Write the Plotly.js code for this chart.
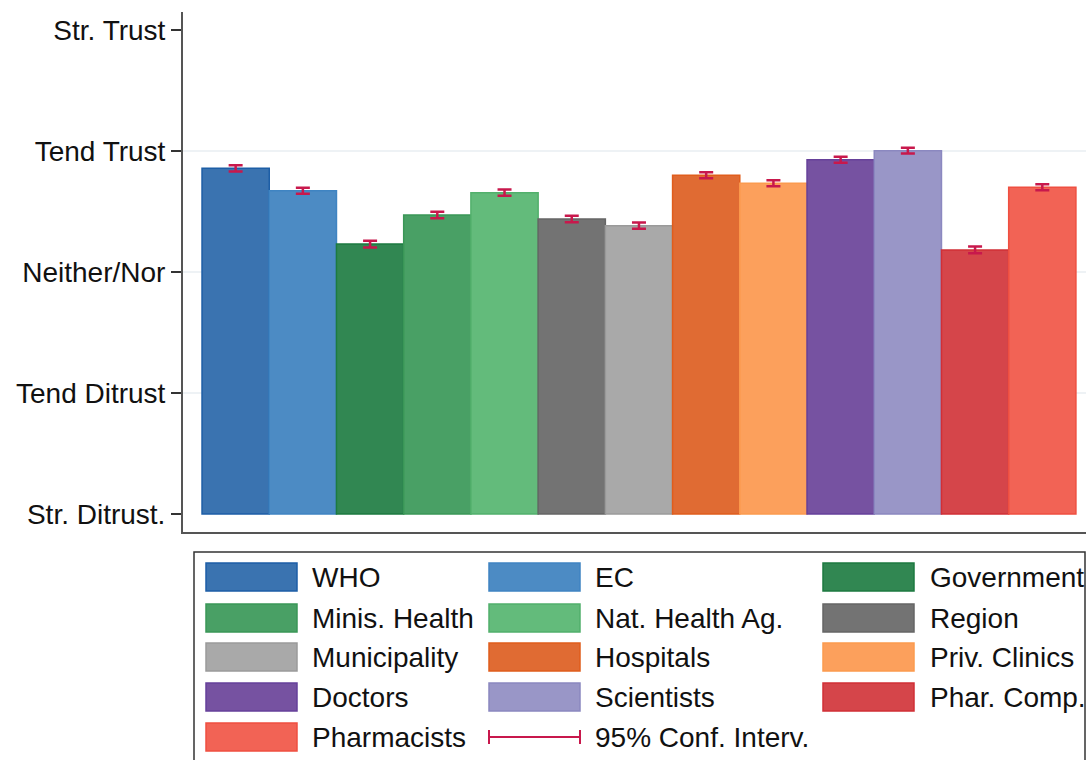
<!DOCTYPE html>
<html>
<head>
<meta charset="utf-8">
<script src="https://cdn.plot.ly/plotly-3.0.1.min.js"></script>
<style>html,body{margin:0;padding:0;background:#fff;overflow:hidden;}</style>
</head>
<body>
<div id="chart" style="width:1086px;height:760px;"></div>
<script>
// ---- data ----
const categories = ["WHO","EC","Government","Minis. Health","Nat. Health Ag.","Region","Municipality","Hospitals","Priv. Clinics","Doctors","Scientists","Phar. Comp.","Pharmacists"];
const meanTrust = [3.857, 3.672, 3.231, 3.471, 3.656, 3.438, 3.383, 3.799, 3.733, 3.928, 4.003, 3.182, 3.700];
const ciHalf    = [0.026, 0.025, 0.028, 0.026, 0.025, 0.026, 0.026, 0.025, 0.025, 0.024, 0.024, 0.028, 0.025];
const tickVals  = [1, 2, 3, 4, 5];
const tickText  = ["Str. Ditrust.", "Tend Ditrust", "Neither/Nor", "Tend Trust", "Str. Trust"];
const ciLabel   = "95% Conf. Interv.";

// ---- styles ----
const fills   = ["#3a73b0","#4c8bc4","#318752","#49a065","#63bb7b","#737373","#a9a9a9","#e06b33","#fca05c","#7652a1","#9996c7","#d5454a","#f26355"];
const borders = ["#1d5ea6","#3f84c2","#1d7a40","#3a9657","#52b06c","#666666","#9a9a9a","#e05d1c","#fb9a4e","#66409a","#8b88c0","#d12f36","#ef4f40"];
const ciColor = "#c8184c";
const FONT = "Liberation Sans, Arial, sans-serif";

const W = 1086, H = 760;
const L = 183, R = 0, T = 12, B = 228;
const pw = W - L - R, ph = H - T - B;
const px = x => (x - L) / pw;
const py = y => (H - B - y) / ph;

const base = tickVals[0];
const idx = categories.map((_, i) => i);

const trace = {
  type: "bar",
  x: idx,
  y: meanTrust.map(v => v - base),
  base: base,
  width: 1,
  marker: { color: fills, line: { color: borders, width: 1.5 } },
  error_y: { type: "data", array: ciHalf, visible: true, color: ciColor, thickness: 2.5, width: 7 },
  hoverinfo: "skip",
  showlegend: false
};

const shapes = [];
const annotations = [];

// gridlines at interior ticks
tickVals.slice(1, -1).forEach(v => {
  shapes.push({ type: "line", xref: "paper", yref: "y", x0: 0, x1: 1, y0: v, y1: v,
    line: { color: "#e8eef2", width: 1.5 }, layer: "below" });
});

// legend box
shapes.push({ type: "rect", xref: "paper", yref: "paper",
  x0: px(194), x1: px(1085), y0: py(552), y1: py(775),
  line: { color: "#333333", width: 1.5 }, fillcolor: "rgba(0,0,0,0)" });

const colSw = [206, 489, 823];
const colTx = [311, 594, 929];
const rowY = [577, 618, 657, 697, 737];
const swW = 91, swH = 28;
const legFont = { family: FONT, size: 28, color: "#111" };
const items = categories.map((c, i) => ({ label: c, i }));
items.forEach((it, k) => {
  const col = k % 3, row = Math.floor(k / 3);
  const cy = rowY[row];
  shapes.push({ type: "rect", xref: "paper", yref: "paper",
    x0: px(colSw[col]), x1: px(colSw[col] + swW), y0: py(cy - swH / 2), y1: py(cy + swH / 2),
    fillcolor: fills[it.i], line: { color: borders[it.i], width: 1.5 } });
  annotations.push({ xref: "paper", yref: "paper", x: px(colTx[col]), y: py(cy),
    xanchor: "left", yanchor: "middle", text: it.label, showarrow: false, borderpad: 0,
    font: legFont });
});
// CI legend entry
{
  const k = categories.length, col = k % 3, row = Math.floor(k / 3), cy = rowY[row];
  const x0 = colSw[col], x1 = colSw[col] + swW;
  shapes.push({ type: "line", xref: "paper", yref: "paper", x0: px(x0), x1: px(x1), y0: py(cy), y1: py(cy), line: { color: ciColor, width: 2 } });
  shapes.push({ type: "line", xref: "paper", yref: "paper", x0: px(x0), x1: px(x0), y0: py(cy - 7), y1: py(cy + 7), line: { color: ciColor, width: 2 } });
  shapes.push({ type: "line", xref: "paper", yref: "paper", x0: px(x1), x1: px(x1), y0: py(cy - 7), y1: py(cy + 7), line: { color: ciColor, width: 2 } });
  annotations.push({ xref: "paper", yref: "paper", x: px(colTx[col]), y: py(cy),
    xanchor: "left", yanchor: "middle", text: ciLabel, showarrow: false, borderpad: 0,
    font: legFont });
}

const layout = {
  width: W, height: H,
  margin: { l: L, r: R, t: T, b: B, pad: 0 },
  paper_bgcolor: "#fff", plot_bgcolor: "#fff",
  bargap: 0,
  font: { family: FONT, size: 28, color: "#111" },
  xaxis: {
    range: [-0.783, 12.65], showticklabels: false, ticks: "", showgrid: false, zeroline: false,
    showline: true, linecolor: "#555", linewidth: 2, fixedrange: true
  },
  yaxis: {
    range: [0.851, 5.149], tickvals: tickVals, ticktext: tickText, ticks: "outside", ticklen: 10,
    tickwidth: 1.5, tickcolor: "#333", ticklabelstandoff: 0, showgrid: false, zeroline: false,
    showline: true, linecolor: "#555", linewidth: 2, tickfont: { family: FONT, size: 28, color: "#111" },
    fixedrange: true
  },
  shapes: shapes,
  annotations: annotations
};

Plotly.newPlot("chart", [trace], layout, { displayModeBar: false, staticPlot: true });
</script>
</body>
</html>
